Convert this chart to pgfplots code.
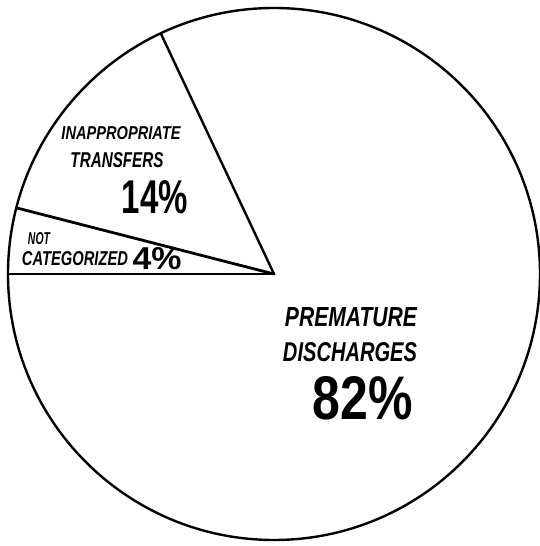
\documentclass[border=0pt]{standalone}
\usepackage{pgfplots}
\usepackage{pgfplotstable}
\usepackage{graphicx}
\usepackage{fontspec}
\setmainfont{Liberation Sans}
\pgfplotsset{compat=1.18}

\pgfplotstableread{
label value
NotCategorized 4
InappropriateTransfers 14
PrematureDischarges 82
}\piedata

\newcommand{\lab}[3]{\resizebox{#1bp}{#2bp}{#3}}

\begin{document}
\begin{tikzpicture}
\pgfplotstablegetelem{0}{value}\of\piedata \let\vA\pgfplotsretval
\pgfplotstablegetelem{1}{value}\of\piedata \let\vB\pgfplotsretval
\pgfplotstablegetelem{2}{value}\of\piedata \let\vC\pgfplotsretval
\pgfmathsetmacro{\aZero}{180}
\pgfmathsetmacro{\aOne}{180-3.6*\vA}
\pgfmathsetmacro{\aTwo}{\aOne-3.6*\vB}
\pgfmathsetmacro{\R}{266}
\begin{axis}[
  scale only axis, width=540bp, height=546bp,
  xmin=-274, xmax=266, ymin=-272, ymax=274,
  hide axis,
]
\path (rel axis cs:0,0) rectangle (rel axis cs:1,1);
\draw[line width=2.4bp] (axis cs:0,0) circle[radius=\R];
\draw[line width=2.8bp, line cap=round] (axis cs:{\R*cos(\aZero)},{\R*sin(\aZero)}) -- (axis cs:0,0);
\draw[line width=2.8bp, line cap=round] (axis cs:{\R*cos(\aOne)},{\R*sin(\aOne)}) -- (axis cs:0,0);
\draw[line width=2.4bp, line cap=round] (axis cs:{\R*cos(\aTwo)},{\R*sin(\aTwo)}) -- (axis cs:0,0);

\node[inner sep=0] at (axis cs:-153,141) {\lab{119}{13}{\bfseries\itshape INAPPROPRIATE}};
\node[inner sep=0] at (axis cs:-157,114) {\lab{93}{15}{\bfseries\itshape TRANSFERS}};
\node[inner sep=0] at (axis cs:-119,77) {\lab{66}{33}{\bfseries 14\%}};
\node[inner sep=0] at (axis cs:-235,35) {\lab{22}{12}{\bfseries\itshape NOT}};
\node[inner sep=0] at (axis cs:-199,15) {\lab{106}{14}{\bfseries\itshape CATEGORIZED}};
\node[inner sep=0] at (axis cs:-117,15) {\lab{49}{22}{\bfseries 4\%}};
\node[inner sep=0] at (axis cs:77,-43) {\lab{132}{19}{\bfseries\itshape PREMATURE}};
\node[inner sep=0] at (axis cs:76,-78) {\lab{134}{19}{\bfseries\itshape DISCHARGES}};
\node[inner sep=0] at (axis cs:89,-124) {\lab{100}{43}{\bfseries 82\%}};
\end{axis}
\end{tikzpicture}
\end{document}
